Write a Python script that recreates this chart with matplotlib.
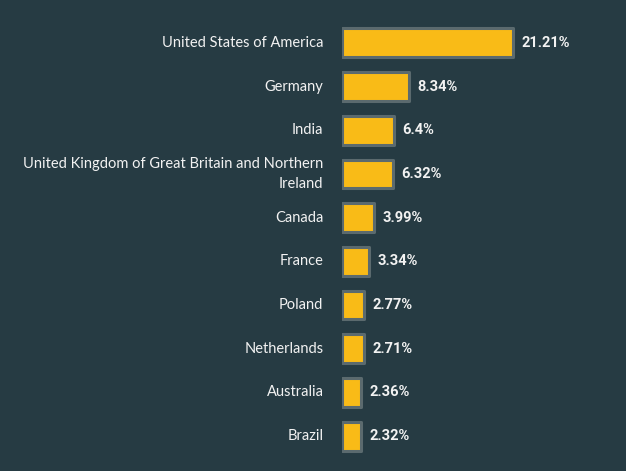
import matplotlib.pyplot as plt

# -----------------------------
# Datos
# -----------------------------
countries = [
    "United States of America",
    "Germany",
    "India",
    "United Kingdom of Great Britain and Northern\nIreland",
    "Canada",
    "France",
    "Poland",
    "Netherlands",
    "Australia",
    "Brazil",
]
shares = [21.21, 8.34, 6.4, 6.32, 3.99, 3.34, 2.77, 2.71, 2.36, 2.32]
value_labels = ["21.21%", "8.34%", "6.4%", "6.32%", "3.99%", "3.34%",
                "2.77%", "2.71%", "2.36%", "2.32%"]

BG = "#263b43"
BAR = "#f9bb17"
EDGE = "#5b6a6e"
TXT = "#f2f2f2"

# -----------------------------
# Figura
# -----------------------------
fig = plt.figure(figsize=(6.26, 4.71), dpi=100, facecolor=BG)
W, H = 626, 471
ax = fig.add_axes([342 / W, 1 - 458 / H, (W - 342) / W, 437 / H])
ax.set_facecolor(BG)

y = list(range(len(countries)))
ax.barh(y, shares, height=0.66, color=BAR, edgecolor=EDGE,
        linewidth=2.2, joinstyle="round")

ax.set_xlim(0, 284 / 8.06)
ax.set_ylim(len(countries) - 0.5, -0.5)

for yi, v, lab in zip(y, shares, value_labels):
    ax.text(v + 1.05, yi, lab, va="center", ha="left", color=TXT,
            fontsize=10.5, fontweight="bold", family="Roboto")

for yi, name in zip(y, countries):
    ax.text(-2.3, yi, name, va="center", ha="right", multialignment="right",
            color=TXT, fontsize=10.5, family="Lato", linespacing=1.5)

ax.axis("off")

fig.savefig("out.png", dpi=100, facecolor=BG)
plt.close(fig)
